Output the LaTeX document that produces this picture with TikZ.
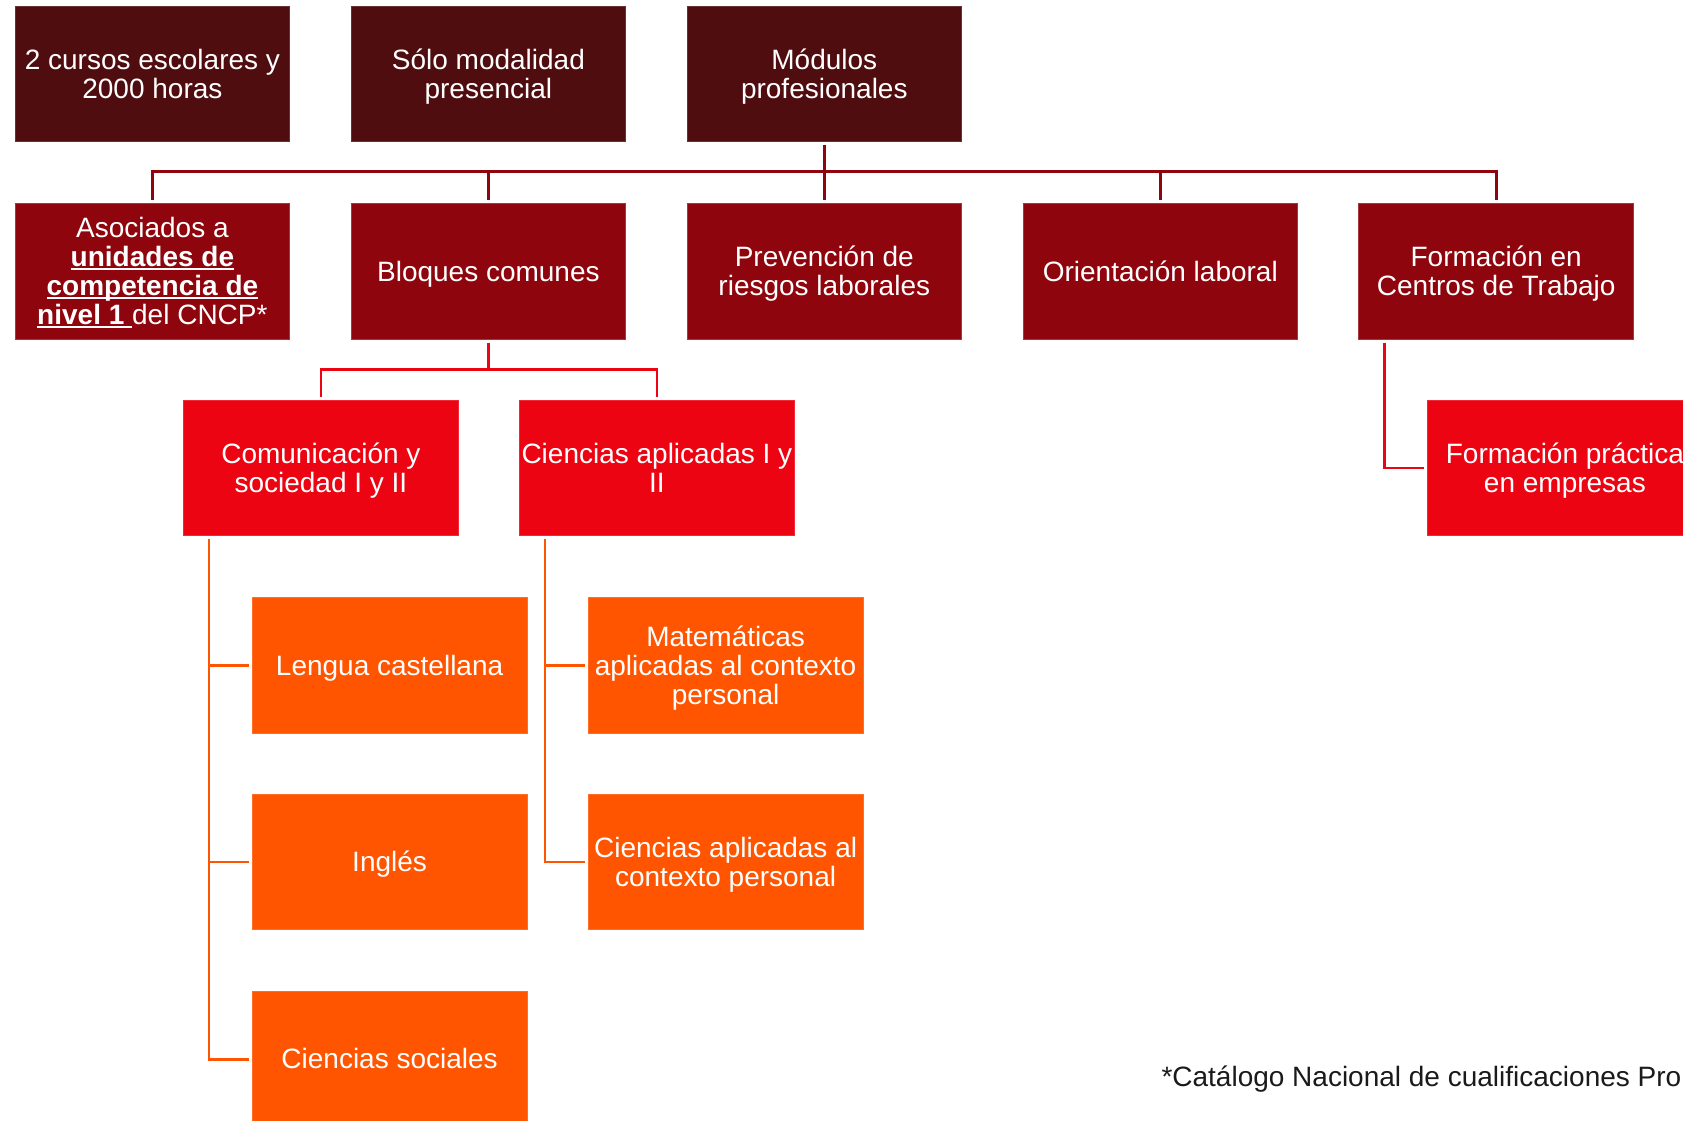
\documentclass[tikz,border=0pt]{standalone}
\usepackage{fontspec}
\setmainfont{Liberation Sans}
\definecolor{cdark}{HTML}{4F0D0F}
\definecolor{cmaroon}{HTML}{8E050D}
\definecolor{cred}{HTML}{EC0412}
\definecolor{corange}{HTML}{FF5500}
\definecolor{cnote}{HTML}{1A1A1A}
\newcommand\myul[1]{\setbox0=\hbox{#1}\rlap{\rule[-3.5pt]{\wd0}{2pt}}\box0}
\newcommand\tA{\rule{0pt}{27pt}}
\newcommand\tB{\rule[-8pt]{0pt}{8pt}}
\tikzset{
  box/.style={minimum width=274.8pt, minimum height=135.3pt, inner sep=2pt,
    align=center, text=white, font=\fontsize{28}{29}\selectfont, line width=0.8pt},
  lvA/.style={box, fill=cdark, draw=cdark!85!white},
  lvB/.style={box, fill=cmaroon, draw=cmaroon!80!white},
  lvC/.style={box, fill=cred, draw=cred!85!white},
  lvD/.style={box, fill=corange, draw=corange!85!white},
  linkA/.style={draw=cmaroon, line width=2.6pt},
  linkB/.style={draw=cred, line width=2.6pt},
  linkC/.style={draw=corange, line width=2.6pt},
}
\begin{document}
\begin{tikzpicture}[x=1pt,y=-1pt]
\useasboundingbox (0,0) rectangle (1683,1121);
\clip (0,0) rectangle (1683,1121);
% row 1
\node[lvA] (cur) at (152.4,74.05) {\tA 2 cursos escolares y\\2000 horas\tB};
\node[lvA] (pre) at (488.4,74.05) {\tA Sólo modalidad\\presencial\tB};
\node[lvA] (mod) at (824.3,74.05) {\tA Módulos\\profesionales\tB};
% row 2
\node[lvB] (aso) at (152.4,271.5) {\tA Asociados a\\\myul{\textbf{unidades de}}\\\myul{\textbf{competencia de}}\\\myul{\textbf{nivel 1 }}del CNCP*\tB};
\node[lvB] (blo) at (488.4,271.5) {\tA Bloques comunes\tB};
\node[lvB] (prv) at (824.3,271.5) {\tA Prevención de\\riesgos laborales\tB};
\node[lvB] (ori) at (1160.3,271.5) {\tA Orientación laboral\tB};
\node[lvB] (fct) at (1496.2,271.5) {\tA Formación en\\Centros de Trabajo\tB};
% row 3
\node[lvC] (com) at (320.9,468) {\tA Comunicación y\\sociedad I y II\tB};
\node[lvC] (cie) at (656.9,468) {\tA Ciencias aplicadas I y\\II\tB};
\node[lvC] (fpe) at (1564.9,468) {\tA Formación práctica\\en empresas\tB};
% rows 4-6
\node[lvD] (len) at (389.6,665.5) {\tA Lengua castellana\tB};
\node[lvD] (ing) at (389.6,862) {\tA Inglés\tB};
\node[lvD] (soc) at (389.6,1059.4) {\tA Ciencias sociales\tB};
\node[lvD] (mat) at (725.6,665.5) {\tA Matemáticas\\aplicadas al contexto\\personal\tB};
\node[lvD] (cac) at (725.6,862) {\tA Ciencias aplicadas al\\contexto personal\tB};
% footnote (cut at the right edge, as printed)
\node[anchor=west, inner sep=0pt, text=cnote, font=\fontsize{28}{29}\selectfont] (note) at (1161.3,1078.6) {*Catálogo Nacional de cualificaciones Pro};
% connectors row1 -> row2
\coordinate (barA) at (0,171.7);
\draw[linkA] ([yshift=-3pt]mod.south) -- (mod.south |- barA);
\draw[linkA] ([yshift=3pt]aso.north) -- (aso.north |- barA) -- (fct.north |- barA) -- ([yshift=3pt]fct.north);
\foreach \n in {blo,prv,ori} \draw[linkA] (\n.north |- barA) -- ([yshift=3pt]\n.north);
% bloques -> row3
\coordinate (barB) at (0,369.2);
\draw[linkB] ([yshift=-3pt]blo.south) -- (blo.south |- barB);
\draw[linkB] ([yshift=3pt]com.north) -- (com.north |- barB) -- (cie.north |- barB) -- ([yshift=3pt]cie.north);
% fct -> formacion practica
\coordinate (fctl) at ([xshift=25.8pt]fct.south west);
\draw[linkB] ([yshift=-3pt]fctl) -- (fctl |- fpe.west) -- ([xshift=-3pt]fpe.west);
% comunicacion tree
\coordinate (coml) at ([xshift=25.8pt]com.south west);
\draw[linkC] ([yshift=-3pt]coml) -- (coml |- soc.west) -- ([xshift=-3pt]soc.west);
\draw[linkC] (coml |- len.west) -- ([xshift=-3pt]len.west);
\draw[linkC] (coml |- ing.west) -- ([xshift=-3pt]ing.west);
% ciencias tree
\coordinate (ciel) at ([xshift=25.8pt]cie.south west);
\draw[linkC] ([yshift=-3pt]ciel) -- (ciel |- cac.west) -- ([xshift=-3pt]cac.west);
\draw[linkC] (ciel |- mat.west) -- ([xshift=-3pt]mat.west);
\end{tikzpicture}
\end{document}
